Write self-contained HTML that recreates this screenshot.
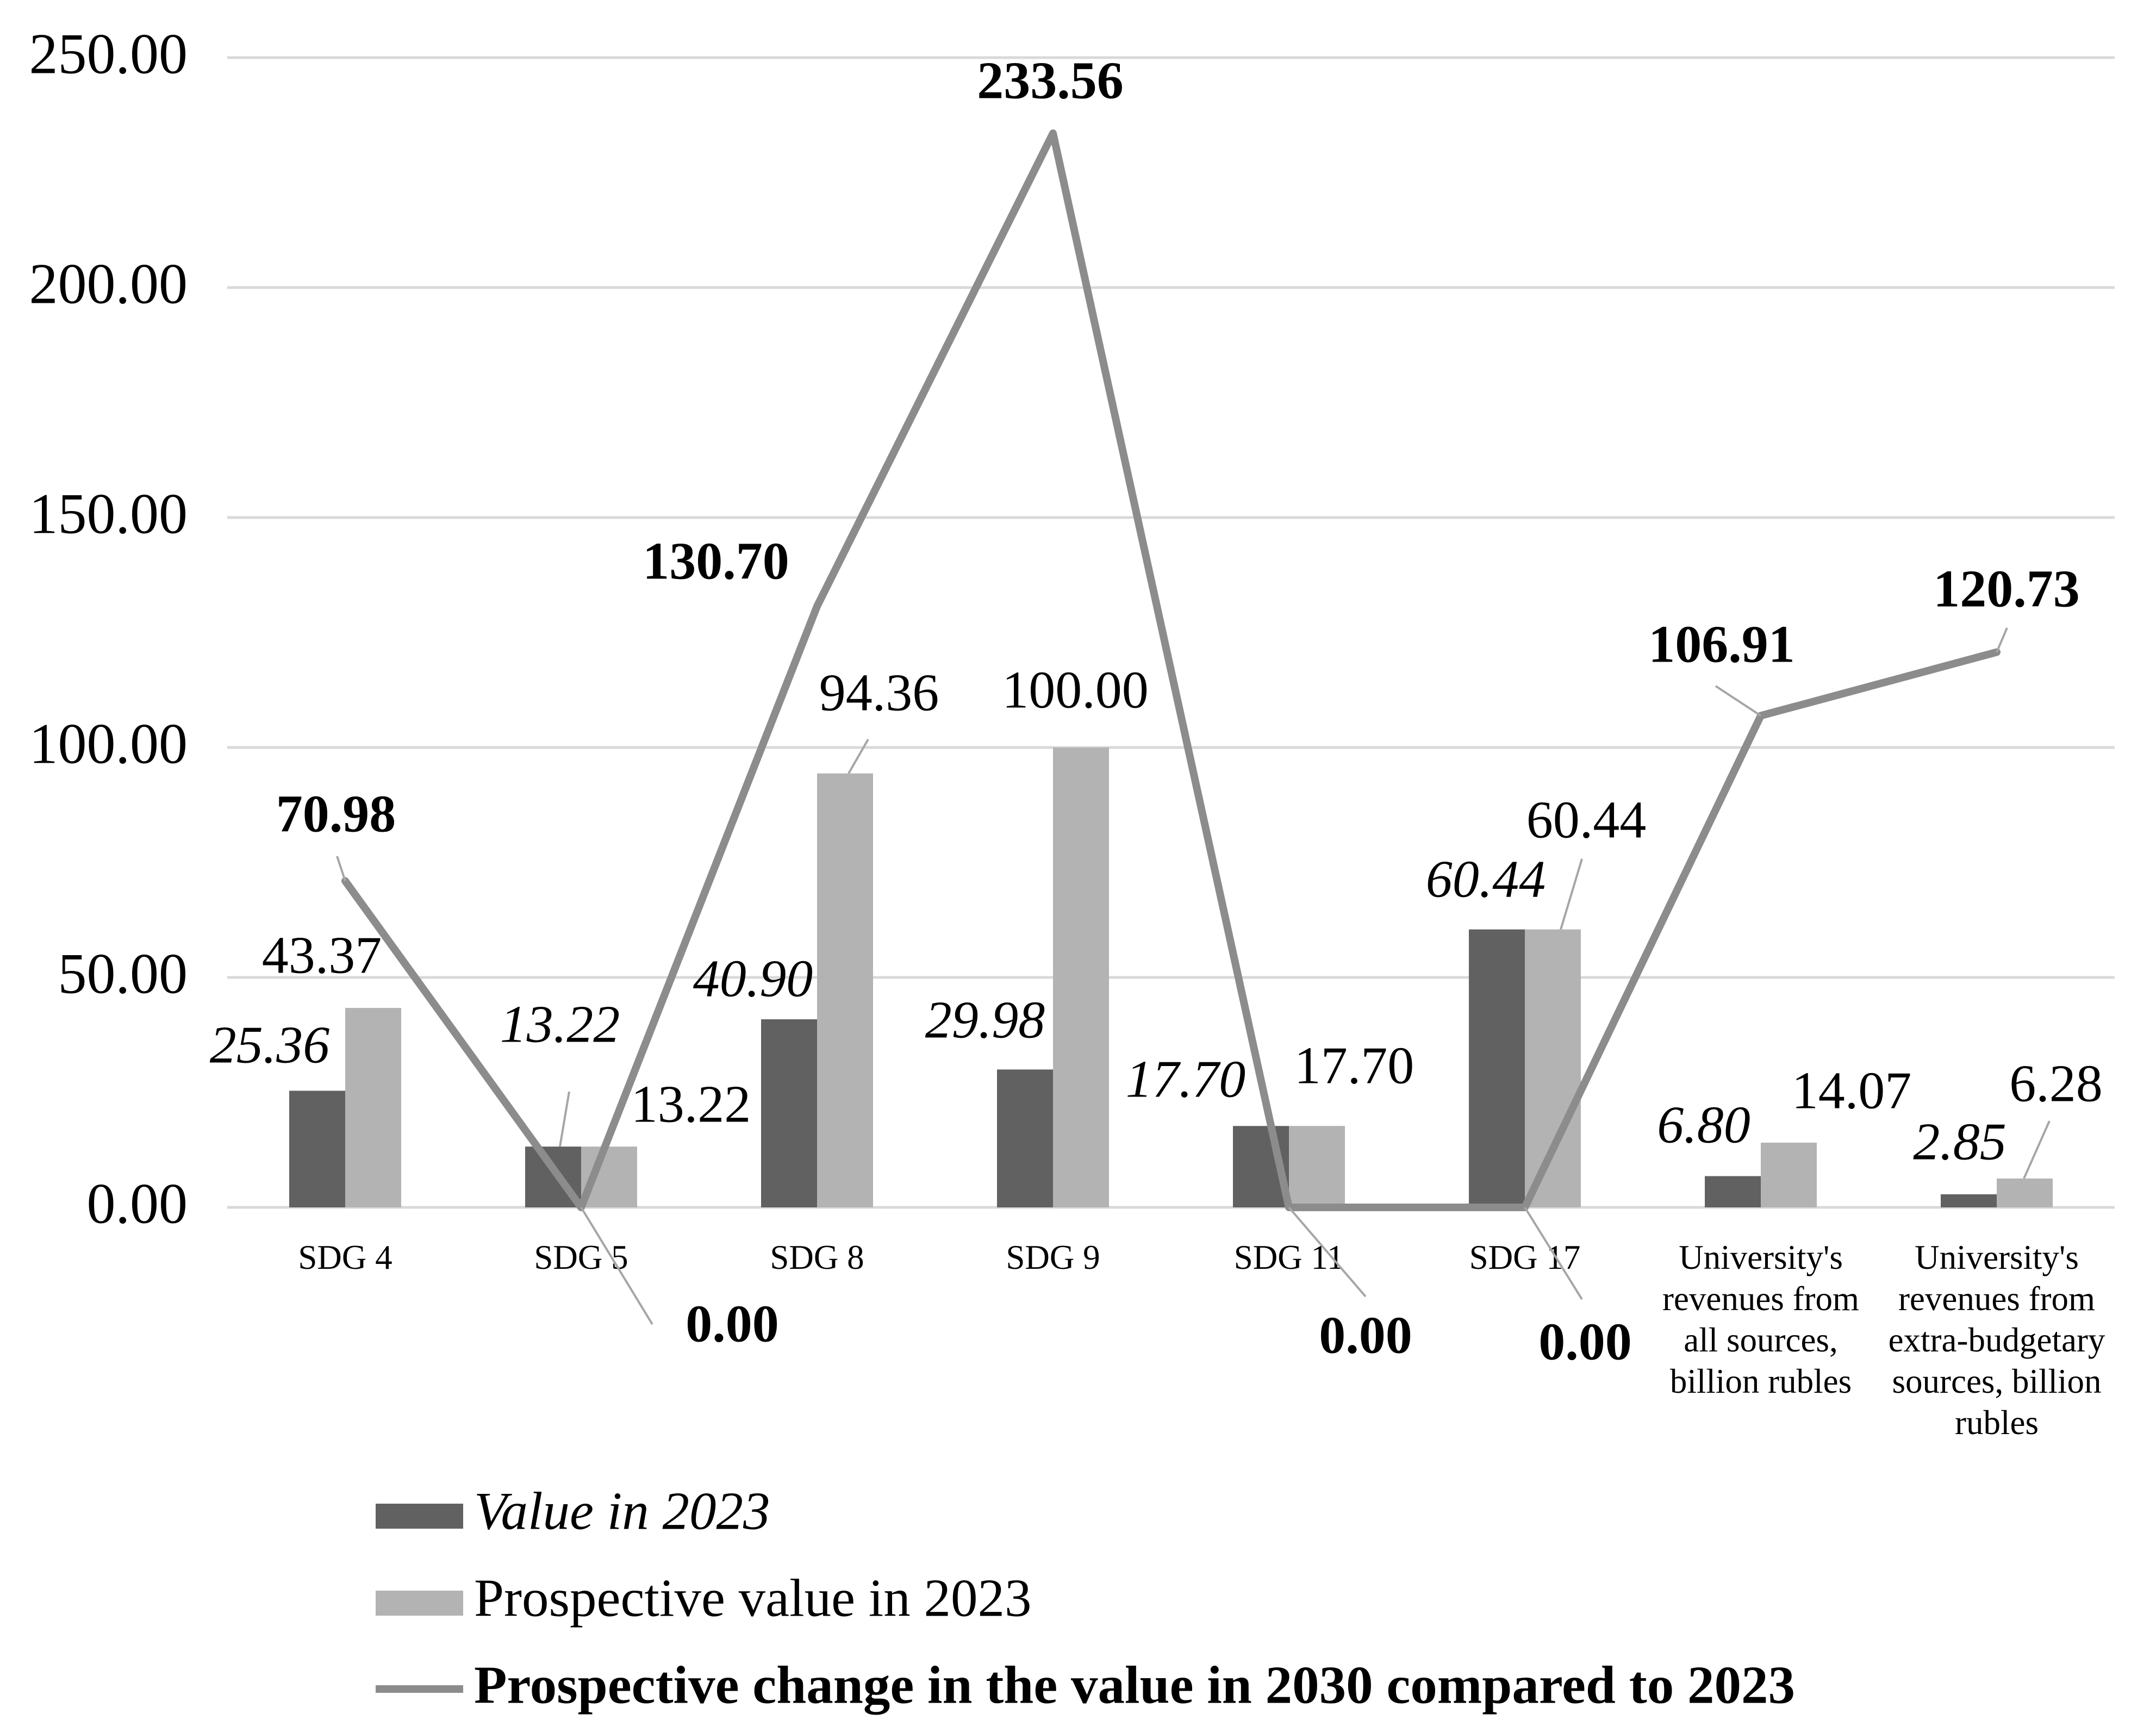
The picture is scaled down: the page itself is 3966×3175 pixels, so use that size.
<!DOCTYPE html>
<html><head><meta charset="utf-8"><style>
html,body{margin:0;padding:0;background:#fff;}
svg{display:block;font-family:"Liberation Serif",serif;}
</style></head><body>
<svg id="chart" width="3966" height="3175" viewBox="0 0 3966 3175" xmlns="http://www.w3.org/2000/svg">
<g id="grid"></g>
<g id="yaxis"></g>
<g id="bars"></g>
<g id="xaxis"></g>
<g id="line"></g>
<g id="labels"></g>
<g id="legend">
  <rect x="691" y="2766" width="161" height="46" fill="#616161"/>
  <text x="872" y="2790" font-size="99" font-style="italic" dominant-baseline="middle">Value in 2023</text>
  <rect x="691" y="2926" width="161" height="46" fill="#b3b3b3"/>
  <text x="872" y="2950" font-size="99" dominant-baseline="middle">Prospective value in 2023</text>
  <line x1="691" y1="3107" x2="852" y2="3107" stroke="#8c8c8c" stroke-width="14"/>
  <text x="872" y="3110" font-size="99" font-weight="bold" dominant-baseline="middle">Prospective change in the value in 2030 compared to 2023</text>
</g>
</svg>
<script>
const categories = [["SDG 4"],["SDG 5"],["SDG 8"],["SDG 9"],["SDG 11"],["SDG 17"],
  ["University's","revenues from","all sources,","billion rubles"],
  ["University's","revenues from","extra-budgetary","sources, billion","rubles"]];
const value2023 = [25.36, 13.22, 40.90, 29.98, 17.70, 60.44, 6.80, 2.85];
const prospective = [43.37, 13.22, 94.36, 100.00, 17.70, 60.44, 14.07, 6.28];
const change = [70.98, 0.00, 130.70, 233.56, 0.00, 0.00, 106.91, 120.73];
const yTicks = [0, 50, 100, 150, 200, 250];

const NS = "http://www.w3.org/2000/svg";
const L = 418, R = 3890, Y0 = 2221, PPU = 8.46;
const band = (R - L) / categories.length;
const xC = i => L + band * (i + 0.5);
const y = v => Y0 - v * PPU;
function mk(parent, tag, attrs, text){
  const e = document.createElementNS(NS, tag);
  for (const k in attrs) e.setAttribute(k, attrs[k]);
  if (text !== undefined) e.textContent = text;
  document.getElementById(parent).appendChild(e);
  return e;
}
yTicks.forEach(t => {
  const g = mk("grid","line",{x1:L,x2:R,y1:y(t),y2:y(t),stroke:"#d9d9d9","stroke-width":5});
  
  
  const tl = mk("yaxis","text",{x:345,y:y(t)+4,"font-size":106,"text-anchor":"end","dominant-baseline":"middle"}, t.toFixed(2));
  
  
});
const BW = 103;
categories.forEach((c, i) => {
  const b1 = mk("bars","rect",{x:xC(i)-BW,y:y(value2023[i]),width:BW,height:value2023[i]*PPU,fill:"#616161"});
  
  
  const b2 = mk("bars","rect",{x:xC(i),y:y(prospective[i]),width:BW,height:prospective[i]*PPU,fill:"#b3b3b3"});
  
  
  const t = mk("xaxis","text",{x:xC(i),"font-size":63,"text-anchor":"middle"});
  
  
  c.forEach((ln, j) => {
    const s = document.createElementNS(NS,"tspan");
    s.setAttribute("x", xC(i)); s.setAttribute("y", 2334 + j*76);
    s.textContent = ln; t.appendChild(s);
  });
});
const pts = change.map((v,i) => xC(i)+","+y(v)).join(" ");
const pl = mk("line","polyline",{points:pts,fill:"none",stroke:"#8c8c8c","stroke-width":14,"stroke-linejoin":"round","stroke-linecap":"round"});



const chgPos = [[618,1507],[1347,2445],[1317,1042],[1932,158],[2512,2466],[2916,2478],[3167,1195],[3691,1093]];
const v23Pos = [[496,1932],[1030,1894],[1385,1810],[1812,1886],[2181,1995],[2733,1627],[3134,2079],[3605,2110]];
const proPos = [[592,1767],[1271,2041],[1617,1284],[1978,1279],[2491,1970],[2918,1518],[3406,2016],[3782,2003]];
change.forEach((v,i) => {
  const t = mk("labels","text",{x:chgPos[i][0],y:chgPos[i][1],"font-size":98,"font-weight":"bold","text-anchor":"middle","dominant-baseline":"middle"}, v.toFixed(2));
  
  
});
value2023.forEach((v,i) => {
  const t = mk("labels","text",{x:v23Pos[i][0],y:v23Pos[i][1],"font-size":98,"font-style":"italic","text-anchor":"middle","dominant-baseline":"middle"}, v.toFixed(2));
  
  
});
prospective.forEach((v,i) => {
  const t = mk("labels","text",{x:proPos[i][0],y:proPos[i][1],"font-size":98,"text-anchor":"middle","dominant-baseline":"middle"}, v.toFixed(2));
  
  
});
const leaderSegs = [
  [620,1575, xC(0), y(change[0])],
  [1200,2436, xC(1), y(change[1])],
  [2512,2385, xC(4), y(change[4])],
  [2910,2390, xC(5), y(change[5])],
  [3156,1262, xC(6), y(change[6])],
  [3692,1155, xC(7), y(change[7])],
  [1047,2008, 1030, y(value2023[1])],
  [1597,1360, 1561, y(prospective[2])],
  [2910,1580, 2871, y(prospective[5])],
  [3770,2062, 3723, y(prospective[7])]
];
leaderSegs.forEach(s => {
  const l = mk("labels","line",{x1:s[0],y1:s[1],x2:s[2],y2:s[3],stroke:"#a6a6a6","stroke-width":4});
  
  
});
</script>
</body></html>
